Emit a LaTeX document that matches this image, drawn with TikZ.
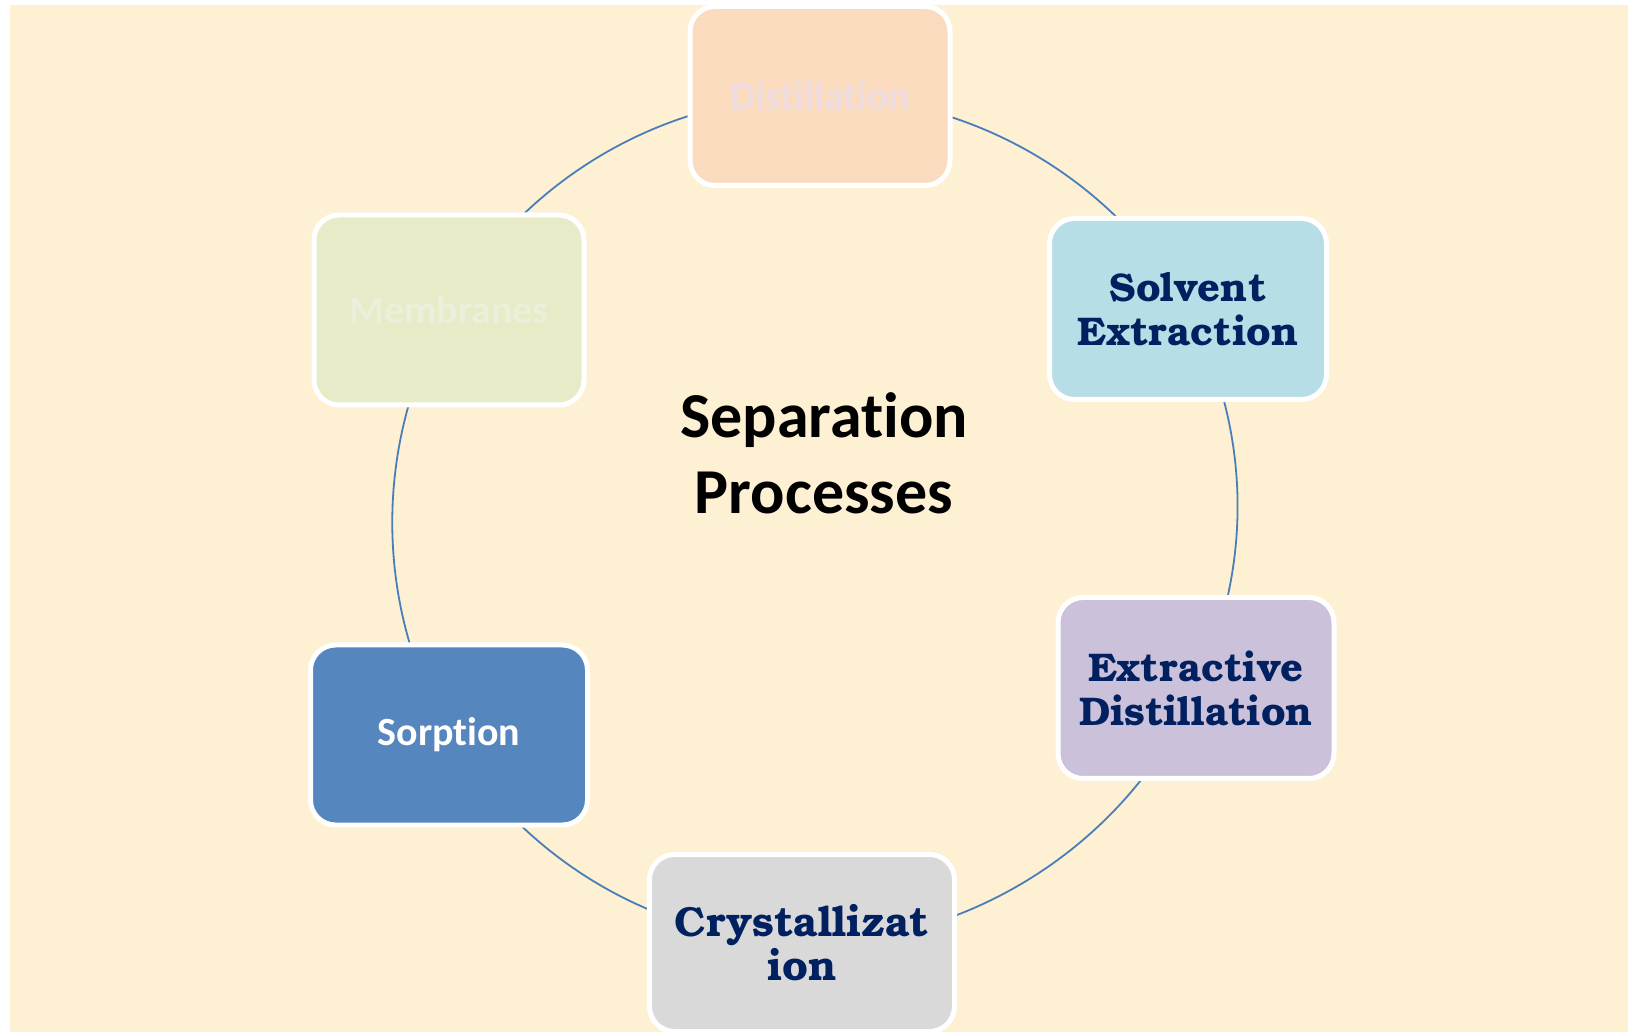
\documentclass[tikz,border=0pt]{standalone}
\usepackage{fontspec}
\setmainfont{Carlito}[Ligatures=NoCommon]
\newfontfamily\bookfont{TeX Gyre Bonum}
\usetikzlibrary{backgrounds}
\definecolor{paper}{HTML}{FDF0D3}
\definecolor{navy}{HTML}{002060}
\definecolor{ringblue}{HTML}{4A7EBB}
\definecolor{peach}{HTML}{FADBBE}
\definecolor{peachtext}{HTML}{EFDCE0}
\definecolor{olive}{HTML}{E8EBC8}
\definecolor{olivetext}{HTML}{ECEFDA}
\definecolor{aqua}{HTML}{B7DDE6}
\definecolor{lilac}{HTML}{CCC1DA}
\definecolor{silver}{HTML}{D9D9D9}
\definecolor{steel}{HTML}{5586BE}

\begin{document}
\begin{tikzpicture}[
        x = 0.5pt, y = -0.5pt,
stage/.style = {draw=white, line width=2.5pt, rounded corners=12.5pt,
                align=center, inner sep=0pt},
 calib/.style = {font=\fontsize{20}{24}\selectfont\bfseries},
 bookm/.style = {font=\bookfont\fontsize{20}{22}\selectfont\bfseries, text=navy},
  ring/.style = {draw=ringblue, line width=0.9pt, bend left=#1, looseness=0.91}
                        ]
\useasboundingbox (0,0) rectangle (1633,1036);
% stages of the cycle
\node[stage, calib, fill=peach, text=peachtext, minimum width=130pt, minimum height=89.5pt]
    (dist) at (820,96) {Distillation};
\node[stage, bookm, fill=aqua, minimum width=138.5pt, minimum height=90.5pt]
    (solv) at (1188,309) {Solvent\\Extraction};
\node[stage, bookm, fill=lilac, minimum width=138pt, minimum height=90.5pt]
    (extr) at (1196,688) {Extractive\\Distillation};
\node[stage, bookm, fill=silver, minimum width=152.5pt, minimum height=88.5pt,
      font=\bookfont\fontsize{21}{22}\selectfont\bfseries]
    (crys) at (802,943) {Crystallizat\\ion};
\node[stage, calib, fill=steel, text=white, minimum width=138.5pt, minimum height=90pt]
    (sorp) at (449,735) {Sorption};
\node[stage, calib, fill=olive, text=olivetext, minimum width=135pt, minimum height=95pt]
    (memb) at (449,310) {Membranes};
% centre title
\node[align=center, font=\fontsize{32}{38}\selectfont\bfseries]
    (title) at (824,453) {Separation\\Processes};
% paper and ring behind the stages
\begin{scope}[on background layer]
    \fill[white] (0,0) rectangle (1633,1036);
    \fill[paper] (10,5) rectangle (1628,1032);
    \draw[ring=30.0] (dist.center) to (solv.center);
    \draw[ring=26.7] (solv.center) to (extr.center);
    \draw[ring=33.9] (extr.center) to (crys.center);
    \draw[ring=28.8] (crys.center) to (sorp.center);
    \draw[ring=30.1] (sorp.center) to (memb.center);
    \draw[ring=30.5] (memb.center) to (dist.center);
\end{scope}
\end{tikzpicture}
\end{document}
